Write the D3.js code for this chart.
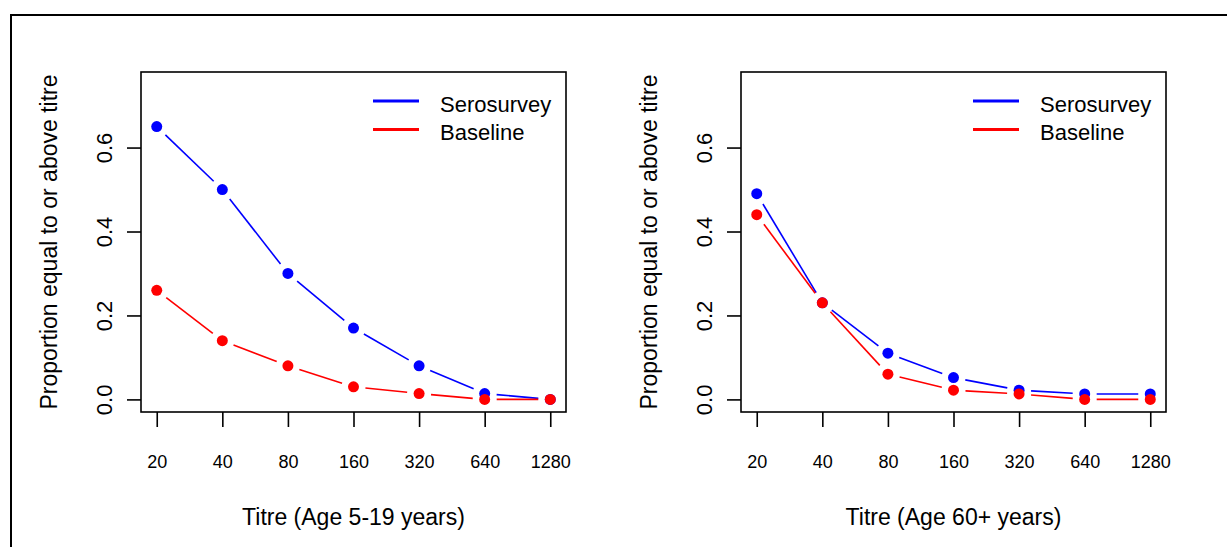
<!DOCTYPE html>
<html>
<head>
<meta charset="utf-8">
<script src="https://cdn.jsdelivr.net/npm/d3@7"></script>
<style>
  html, body { margin: 0; padding: 0; background: #fff; }
  svg { display: block; font-family: "Liberation Sans", Arial, sans-serif; }
  text { font-family: "Liberation Sans", Arial, sans-serif; }
</style>
</head>
<body>
<svg id="chart" width="1227" height="547"></svg>
<script>
// ---- data ----
const titres = ["20", "40", "80", "160", "320", "640", "1280"];
const yTicks = [0.0, 0.2, 0.4, 0.6];
const seroYoung = [0.65, 0.50, 0.30, 0.17, 0.08, 0.014, 0.0];
const baseYoung = [0.26, 0.14, 0.08, 0.03, 0.014, 0.0, 0.0];
const seroOld = [0.49, 0.23, 0.11, 0.052, 0.022, 0.013, 0.013];
const baseOld = [0.44, 0.23, 0.06, 0.022, 0.013, 0.0, 0.0];
const seriesNames = ["Serosurvey", "Baseline"];
const seriesColors = ["#0000ff", "#ff0000"];
const panelTitles = ["Titre (Age 5-19 years)", "Titre (Age 60+ years)"];
const yTitle = "Proportion equal to or above titre";

const FONT = "Liberation Sans, Arial, sans-serif";
const svg = d3.select("#chart");

// outer frame
svg.append("rect")
  .attr("x", 11).attr("y", 15)
  .attr("width", 1300).attr("height", 600)
  .attr("fill", "none").attr("stroke", "#000").attr("stroke-width", 2);

const panels = [
  { left: 141, series: [seroYoung, baseYoung], title: panelTitles[0] },
  { left: 741, series: [seroOld, baseOld], title: panelTitles[1] }
];

const boxTop = 72, boxBottom = 412, boxW = 425;
const idx = titres.map((d, i) => i + 1);

panels.forEach(p => {
  const g = svg.append("g").attr("transform", `translate(${p.left},0)`);
  const x = d3.scaleLinear().domain([0.76, 7.24]).range([0, boxW]);
  const y = d3.scaleLinear().domain([-0.03, 0.78]).range([boxBottom, boxTop]);

  // box
  g.append("rect")
    .attr("x", 0).attr("y", boxTop)
    .attr("width", boxW).attr("height", boxBottom - boxTop)
    .attr("fill", "none").attr("stroke", "#000").attr("stroke-width", 1.6);

  // x axis
  const xa = g.append("g").attr("transform", `translate(0,${boxBottom})`)
    .call(d3.axisBottom(x).tickValues(idx).tickFormat(i => titres[i - 1]).tickSize(15));
  xa.attr("font-family", FONT).attr("font-size", 18);
  xa.select(".domain").remove();
  xa.selectAll(".tick line").attr("stroke", "#000").attr("stroke-width", 1.6);
  xa.selectAll(".tick text")
    .attr("y", 56).attr("dy", 0)
    .attr("fill", "#000")
    .attr("font-family", FONT)
    .attr("font-size", 18);

  // y axis
  const ya = g.append("g")
    .call(d3.axisLeft(y).tickValues(yTicks).tickFormat(d3.format(".1f")).tickSize(14));
  ya.attr("font-family", FONT).attr("font-size", 22);
  ya.select(".domain").remove();
  ya.selectAll(".tick line").attr("stroke", "#000").attr("stroke-width", 1.6);
  ya.selectAll(".tick text")
    .attr("transform", "rotate(-90)")
    .attr("x", 0).attr("y", -29).attr("dy", 0)
    .attr("text-anchor", "middle")
    .attr("fill", "#000")
    .attr("font-family", FONT)
    .attr("font-size", 22);

  // axis titles
  g.append("text")
    .attr("x", boxW / 2).attr("y", 525)
    .attr("text-anchor", "middle")
    .attr("font-family", FONT)
    .attr("font-size", 23)
    .text(p.title);
  g.append("text")
    .attr("transform", `translate(-84,${(boxTop + boxBottom) / 2}) rotate(-90)`)
    .attr("text-anchor", "middle")
    .attr("font-family", FONT)
    .attr("font-size", 23)
    .text(yTitle);

  // series: lines with gaps (type "b") and points
  const gap = 12;
  p.series.forEach((vals, si) => {
    const pts = vals.map((v, i) => [x(i + 1), y(v)]);
    const segs = [];
    for (let i = 0; i < pts.length - 1; i++) {
      const [x1, y1] = pts[i], [x2, y2] = pts[i + 1];
      const dx = x2 - x1, dy = y2 - y1, L = Math.hypot(dx, dy);
      if (L > 2 * gap) {
        const ux = dx / L, uy = dy / L;
        segs.push([x1 + ux * gap, y1 + uy * gap, x2 - ux * gap, y2 - uy * gap]);
      }
    }
    g.append("g").selectAll("line").data(segs).join("line")
      .attr("x1", d => d[0]).attr("y1", d => d[1])
      .attr("x2", d => d[2]).attr("y2", d => d[3])
      .attr("stroke", seriesColors[si]).attr("stroke-width", 1.6);
    g.append("g").selectAll("circle").data(vals).join("circle")
      .attr("cx", (d, i) => x(i + 1)).attr("cy", d => y(d))
      .attr("r", 5.5).attr("fill", seriesColors[si]);
  });

  // legend
  const lg = g.append("g");
  seriesNames.forEach((name, si) => {
    const ly = 101 + si * 28.5;
    lg.append("line")
      .attr("x1", 232).attr("x2", 278).attr("y1", ly).attr("y2", ly)
      .attr("stroke", seriesColors[si]).attr("stroke-width", 3);
    lg.append("text")
      .attr("x", 299).attr("y", ly + 10.5)
      .attr("font-family", FONT)
      .attr("font-size", 22)
      .text(name);
  });
});
</script>
</body>
</html>
